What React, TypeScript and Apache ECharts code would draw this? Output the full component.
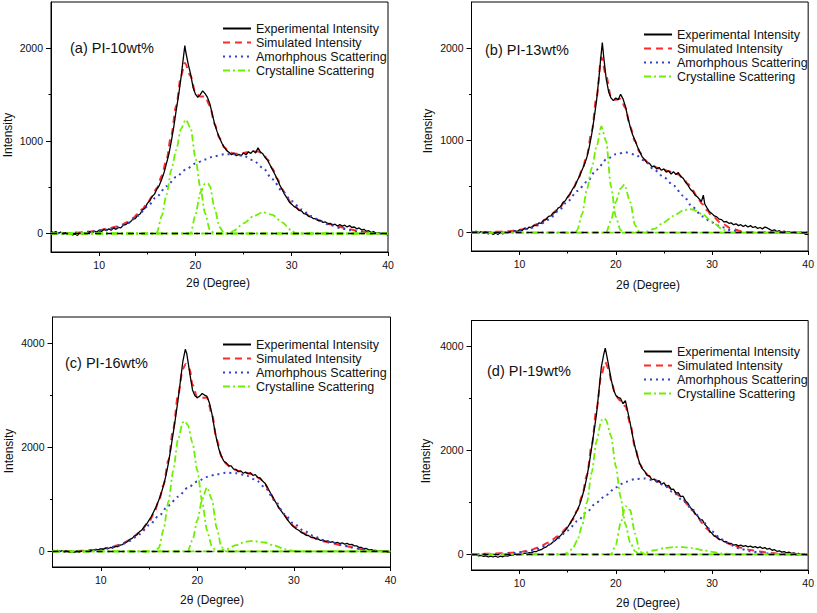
import React, { useEffect, useRef } from "react";
import * as echarts from "echarts";

type Pt = [number, number];

const panelLabels = ["(a) PI-10wt%", "(b) PI-13wt%", "(c) PI-16wt%", "(d) PI-19wt%"];
const legendNames = ["Experimental Intensity", "Simulated Intensity", "Amorhphous Scattering", "Crystalline Scattering"];
const xAxisTitle = "2θ (Degree)";
const yAxisTitle = "Intensity";
const xMajorTicks = [10, 20, 30, 40];
const xMinorTicks = [15, 25, 35];
const yMajorLow = [0, 1000, 2000];
const yMinorLow = [500, 1500];
const yMajorHigh = [0, 2000, 4000];
const yMinorHigh = [1000, 3000];

// ---------- (a) PI-10wt% ----------
const expA: Pt[] = [[5,25],[5.25,5],[5.5,20],[5.75,0],[6,15],[6.25,-5],[6.5,10],[6.75,-10],[7,5],[7.25,-15],[7.5,-5],[7.75,-20],[8,5],[8.25,-10],[8.5,10],[8.75,0],[9,20],[9.25,5],[9.5,25],[9.75,15],[10,35],[10.25,20],[10.5,45],[10.75,30],[11,50],[11.25,35],[11.5,60],[11.75,45],[12,65],[12.25,60],[12.5,90],[12.75,95],[13,115],[13.25,125],[13.5,155],[13.75,160],[14,195],[14.25,210],[14.5,255],[14.75,270],[15,325],[15.25,350],[15.5,400],[15.75,425],[16,480],[16.25,520],[16.5,585],[16.75,660],[17,760],[17.25,860],[17.5,1000],[17.75,1150],[18,1330],[18.25,1490],[18.5,1680],[18.75,1900],[18.9,2030],[19,1960],[19.25,1830],[19.5,1720],[19.75,1580],[20,1505],[20.25,1470],[20.5,1500],[20.75,1540],[21,1510],[21.25,1470],[21.5,1400],[21.75,1290],[22,1180],[22.25,1100],[22.5,1035],[22.75,975],[23,930],[23.25,895],[23.5,875],[23.75,850],[24,870],[24.25,840],[24.5,855],[24.75,840],[25,870],[25.25,850],[25.5,880],[25.75,865],[26,895],[26.25,870],[26.5,925],[26.75,880],[27,860],[27.25,820],[27.5,790],[27.75,740],[28,690],[28.25,640],[28.5,585],[28.75,525],[29,475],[29.25,425],[29.5,385],[29.75,340],[30,315],[30.25,290],[30.5,275],[30.75,250],[31,245],[31.25,215],[31.5,210],[31.75,185],[32,180],[32.25,160],[32.5,160],[32.75,140],[33,140],[33.25,120],[33.5,125],[33.75,105],[34,110],[34.25,90],[34.5,100],[34.75,80],[35,95],[35.25,80],[35.5,90],[35.75,70],[36,85],[36.25,65],[36.5,70],[36.75,50],[37,60],[37.25,40],[37.5,45],[37.75,25],[38,30],[38.25,10],[38.5,20],[38.75,0],[39,10],[39.25,-5],[39.5,5],[39.75,-10],[40,-15]];
const simA: Pt[] = [[5,10],[6,5],[7,5],[8,10],[9,20],[10,35],[11,55],[12,80],[13,125],[13.5,165],[14,210],[14.5,265],[15,330],[15.5,400],[16,490],[16.5,620],[17,800],[17.5,1070],[18,1380],[18.5,1700],[18.9,1840],[19.5,1700],[20,1520],[20.5,1480],[21,1480],[21.5,1380],[22,1180],[22.5,1030],[23,930],[23.5,880],[24,860],[24.5,860],[25,870],[25.5,880],[26,885],[26.5,885],[27,860],[27.5,800],[28,700],[28.5,590],[29,480],[29.5,390],[30,320],[31,245],[32,180],[33,135],[34,100],[35,70],[36,45],[37,25],[38,10],[39,3],[40,0]];
const amoA: Pt[] = [[5,0],[6,2],[7,5],[8,10],[9,18],[10,28],[11,45],[12,70],[13,112],[14,190],[15,290],[16,400],[17,510],[18,610],[19,690],[20,755],[21,800],[22,835],[23,855],[24,855],[25,838],[26,790],[27,710],[28,585],[29,460],[30,350],[31,260],[32,188],[33,134],[34,90],[35,60],[36,36],[37,18],[38,7],[39,2],[40,0]];
const cryA1: Pt[] = [[5,0],[15.5,0],[16,10],[16.5,190],[17,420],[17.5,690],[18,900],[18.5,1130],[19,1230],[19.5,1140],[20,820],[20.5,500],[21,220],[21.5,40],[22,0],[40,0]];
const cryA2: Pt[] = [[5,0],[19.5,0],[20,200],[20.5,440],[21,540],[21.3,540],[21.5,510],[22,270],[22.5,70],[23,0],[40,0]];
const cryA3: Pt[] = [[5,0],[23.5,0],[24,30],[25,110],[26,185],[27,230],[28,200],[29,120],[30,30],[30.5,0],[40,0]];

// ---------- (b) PI-13wt% ----------
const expB: Pt[] = [[5,15],[5.25,0],[5.5,15],[5.75,-5],[6,10],[6.25,-10],[6.5,5],[6.75,-15],[7,0],[7.25,-20],[7.5,-5],[7.75,-20],[8,0],[8.25,-15],[8.5,5],[8.75,-5],[9,10],[9.25,0],[9.5,20],[9.75,10],[10,30],[10.25,20],[10.5,45],[10.75,35],[11,60],[11.25,50],[11.5,80],[11.75,75],[12,105],[12.25,100],[12.5,135],[12.75,140],[13,175],[13.25,180],[13.5,215],[13.75,225],[14,265],[14.25,280],[14.5,325],[14.75,345],[15,390],[15.25,420],[15.5,470],[15.75,505],[16,565],[16.25,615],[16.5,680],[16.75,740],[17,820],[17.25,930],[17.5,1070],[17.75,1240],[18,1430],[18.25,1680],[18.4,1850],[18.6,2060],[18.75,1900],[19,1670],[19.25,1530],[19.5,1460],[19.75,1430],[20,1460],[20.25,1440],[20.5,1500],[20.75,1450],[21,1370],[21.25,1250],[21.5,1145],[21.75,1060],[22,1000],[22.25,930],[22.5,875],[22.75,820],[23,790],[23.25,755],[23.5,750],[23.75,715],[24,720],[24.25,690],[24.5,705],[24.75,675],[25,690],[25.25,655],[25.5,670],[25.75,635],[26,660],[26.25,630],[26.5,650],[26.75,610],[27,590],[27.25,545],[27.5,515],[27.75,470],[28,445],[28.25,405],[28.5,385],[28.75,355],[28.9,335],[29.1,405],[29.25,310],[29.5,265],[29.75,225],[30,205],[30.25,180],[30.5,170],[30.75,145],[31,140],[31.25,115],[31.5,120],[31.75,100],[32,105],[32.25,85],[32.5,95],[32.75,75],[33,85],[33.25,65],[33.5,80],[33.75,60],[34,75],[34.25,55],[34.5,65],[34.75,45],[35,55],[35.25,40],[35.5,60],[35.75,50],[36,35],[36.25,20],[36.5,30],[36.75,10],[37,20],[37.25,5],[37.5,15],[37.75,0],[38,10],[38.25,-5],[38.5,5],[38.75,-10],[39,0],[39.25,-10],[39.5,-5],[39.75,-20],[40,-20]];
const simB: Pt[] = [[5,5],[6,5],[7,5],[8,10],[9,15],[10,30],[11,55],[12,95],[13,160],[14,250],[15,380],[15.5,460],[16,560],[16.5,680],[17,840],[17.5,1100],[18,1470],[18.5,1900],[19,1700],[19.5,1470],[20,1440],[20.5,1450],[21,1350],[21.5,1150],[22,990],[22.5,870],[23,790],[23.5,745],[24,715],[24.5,695],[25,680],[25.5,665],[26,650],[26.5,630],[27,590],[27.5,530],[28,460],[28.5,380],[29,310],[29.5,240],[30,180],[31,100],[32,45],[33,15],[34,3],[35,0],[40,0]];
const amoB: Pt[] = [[5,0],[7,2],[8,5],[9,10],[10,20],[11,45],[12,80],[13,140],[14,230],[15,340],[16,450],[17,550],[18,680],[19,790],[20,850],[21,870],[22,845],[23,780],[24,680],[25,600],[26,510],[27,400],[28,275],[29,175],[30,110],[31,60],[32,25],[33,5],[34,0],[40,0]];
const cryB1: Pt[] = [[5,0],[15.8,0],[16,30],[16.5,200],[17,470],[17.5,700],[18,930],[18.5,1150],[19,990],[19.5,500],[20,170],[20.5,25],[21,0],[40,0]];
const cryB2: Pt[] = [[5,0],[19,0],[19.5,130],[20,330],[20.5,480],[20.9,520],[21.5,330],[22,80],[22.5,0],[40,0]];
const cryB3: Pt[] = [[5,0],[22.5,0],[23,5],[24,40],[25,110],[26,180],[27,240],[27.7,255],[28,250],[29,200],[30,120],[31,40],[31.8,0],[40,0]];

// ---------- (c) PI-16wt% ----------
const expC: Pt[] = [[5,20],[5.25,0],[5.5,20],[5.75,-5],[6,15],[6.25,-10],[6.5,5],[6.75,-20],[7,-5],[7.25,-20],[7.5,0],[7.75,-15],[8,5],[8.25,-5],[8.5,15],[8.75,5],[9,25],[9.25,15],[9.5,40],[9.75,30],[10,55],[10.25,40],[10.5,65],[10.75,50],[11,75],[11.25,65],[11.5,95],[11.75,90],[12,120],[12.25,130],[12.5,165],[12.75,185],[13,230],[13.25,250],[13.5,295],[13.75,320],[14,375],[14.25,410],[14.5,475],[14.75,525],[15,600],[15.25,675],[15.5,770],[15.75,865],[16,980],[16.25,1110],[16.5,1270],[16.75,1460],[17,1690],[17.25,1970],[17.5,2270],[17.75,2580],[18,2910],[18.25,3280],[18.5,3650],[18.75,3880],[18.9,3800],[19,3680],[19.25,3380],[19.5,3100],[19.75,2990],[20,2950],[20.25,2980],[20.5,3030],[20.75,3000],[21,2975],[21.25,2850],[21.5,2650],[21.75,2380],[22,2140],[22.25,1950],[22.5,1820],[22.75,1730],[23,1700],[23.25,1640],[23.5,1640],[23.75,1580],[24,1575],[24.25,1530],[24.5,1545],[24.75,1500],[25,1525],[25.25,1490],[25.5,1510],[25.75,1460],[26,1475],[26.25,1420],[26.5,1410],[26.75,1350],[27,1310],[27.25,1230],[27.5,1145],[27.75,1060],[28,980],[28.25,900],[28.5,820],[28.75,760],[29,695],[29.25,630],[29.5,565],[29.75,510],[30,470],[30.25,430],[30.5,405],[30.75,365],[31,345],[31.25,310],[31.5,305],[31.75,270],[32,270],[32.25,240],[32.5,240],[32.75,210],[33,215],[33.25,190],[33.5,200],[33.75,175],[34,185],[34.25,160],[34.5,175],[34.75,150],[35,165],[35.25,140],[35.5,155],[35.75,130],[36,135],[36.25,105],[36.5,105],[36.75,75],[37,75],[37.25,50],[37.5,55],[37.75,30],[38,35],[38.25,15],[38.5,20],[38.75,0],[39,10],[39.25,-5],[39.5,5],[39.75,-15],[40,-10]];
const simC: Pt[] = [[5,10],[6,5],[7,5],[8,10],[9,20],[10,40],[11,75],[12,130],[13,220],[14,360],[15,570],[15.5,730],[16,960],[16.5,1280],[17,1750],[17.5,2350],[18,3000],[18.5,3500],[18.8,3600],[19.2,3500],[19.5,3200],[20,2950],[20.5,2950],[21,2950],[21.5,2650],[22,2150],[22.5,1820],[23,1680],[23.5,1610],[24,1560],[24.5,1530],[25,1510],[25.5,1490],[26,1450],[26.5,1390],[27,1290],[27.5,1140],[28,980],[28.5,830],[29,700],[29.5,580],[30,480],[31,350],[32,260],[33,195],[34,150],[35,115],[36,80],[37,40],[38,15],[39,3],[40,0]];
const amoC: Pt[] = [[5,0],[7,3],[8,8],[9,20],[10,40],[11,75],[12,120],[13,200],[14,330],[15,500],[16,680],[17,880],[18,1050],[19,1220],[20,1340],[21,1430],[22,1480],[23,1510],[24,1500],[25,1460],[26,1380],[27,1230],[28,980],[29,720],[30,530],[31,400],[32,300],[33,220],[34,170],[35,120],[36,75],[37,40],[38,15],[39,3],[40,0]];
const cryC1: Pt[] = [[5,0],[15.5,0],[16,60],[16.5,420],[17,950],[17.5,1550],[18,2150],[18.5,2480],[18.7,2500],[19,2430],[19.5,2080],[20,1550],[20.5,950],[21,400],[21.5,100],[22,0],[40,0]];
const cryC2: Pt[] = [[5,0],[19,0],[19.5,220],[20,600],[20.5,1000],[21,1230],[21.5,1000],[22,450],[22.5,80],[23,0],[40,0]];
const cryC3: Pt[] = [[5,0],[22,0],[23,40],[24,120],[25,185],[25.7,200],[27,170],[28,110],[29,45],[30,10],[30.5,0],[40,0]];

// ---------- (d) PI-19wt% ----------
const expD: Pt[] = [[5,5],[5.25,-15],[5.5,-5],[5.75,-30],[6,-20],[6.25,-40],[6.5,-30],[6.75,-50],[7,-35],[7.25,-50],[7.5,-35],[7.75,-55],[8,-35],[8.25,-45],[8.5,-25],[8.75,-35],[9,-15],[9.25,-20],[9.5,5],[9.75,-5],[10,15],[10.25,5],[10.5,25],[10.75,15],[11,35],[11.25,30],[11.5,55],[11.75,55],[12,80],[12.25,90],[12.5,125],[12.75,140],[13,180],[13.25,200],[13.5,245],[13.75,275],[14,325],[14.25,360],[14.5,415],[14.75,460],[15,525],[15.25,595],[15.5,680],[15.75,760],[16,850],[16.25,960],[16.5,1105],[16.75,1280],[17,1490],[17.25,1760],[17.5,2070],[17.75,2380],[18,2710],[18.25,3150],[18.5,3610],[18.75,3850],[18.9,3970],[19,3880],[19.25,3640],[19.5,3380],[19.75,3180],[20,3060],[20.25,3020],[20.5,3000],[20.75,2900],[21,2960],[21.25,2740],[21.5,2520],[21.75,2280],[22,2070],[22.25,1890],[22.5,1745],[22.75,1650],[23,1600],[23.25,1520],[23.5,1510],[23.75,1440],[24,1450],[24.25,1390],[24.5,1420],[24.75,1350],[25,1380],[25.25,1310],[25.5,1330],[25.75,1250],[26,1255],[26.25,1180],[26.5,1190],[26.75,1110],[27,1120],[27.25,1030],[27.5,985],[27.75,900],[28,860],[28.25,780],[28.5,740],[28.75,670],[29,665],[29.25,580],[29.5,530],[29.75,450],[30,405],[30.25,350],[30.5,335],[30.75,290],[31,285],[31.25,245],[31.5,245],[31.75,210],[32,210],[32.25,180],[32.5,190],[32.75,165],[33,180],[33.25,155],[33.5,170],[33.75,145],[34,160],[34.25,135],[34.5,150],[34.75,125],[35,145],[35.25,115],[35.5,130],[35.75,100],[36,115],[36.25,80],[36.5,90],[36.75,60],[37,70],[37.25,45],[37.5,55],[37.75,30],[38,45],[38.25,20],[38.5,30],[38.75,10],[39,20],[39.25,0],[39.5,10],[39.75,-10],[40,-5]];
const simD: Pt[] = [[5,10],[6,10],[7,15],[8,20],[9,30],[10,45],[11,80],[12,135],[13,230],[14,350],[15,520],[15.5,660],[16,850],[16.5,1130],[17,1530],[17.5,2100],[18,2800],[18.5,3450],[18.9,3700],[19.3,3550],[19.5,3350],[20,3050],[20.5,2950],[21,2850],[21.5,2520],[22,2060],[22.5,1740],[23,1580],[23.5,1500],[24,1440],[24.5,1400],[25,1350],[25.5,1290],[26,1220],[26.5,1140],[27,1050],[27.5,950],[28,840],[28.5,720],[29,600],[29.5,490],[30,390],[31,270],[32,190],[33,130],[34,85],[35,55],[36,30],[37,12],[38,3],[39,0],[40,0]];
const amoD: Pt[] = [[5,0],[7,5],[8,10],[9,20],[10,35],[11,60],[12,110],[13,190],[14,310],[15,460],[16,640],[17,820],[18,1000],[19,1140],[20,1290],[21,1395],[22,1450],[23,1460],[24,1420],[25,1330],[26,1190],[27,1030],[28,860],[29,640],[30,440],[31,290],[32,175],[33,105],[34,60],[35,35],[36,15],[37,5],[38,0],[40,0]];
const cryD1: Pt[] = [[5,0],[14.5,0],[15,30],[15.5,110],[16,270],[16.5,550],[17,1000],[17.5,1580],[18,2180],[18.5,2580],[18.8,2620],[19,2580],[19.5,2280],[20,1700],[20.5,1100],[21,580],[21.5,230],[22,60],[22.5,0],[40,0]];
const cryD2: Pt[] = [[5,0],[19.5,0],[20,180],[20.5,600],[21,930],[21.5,850],[22,400],[22.5,60],[23,0],[40,0]];
const cryD3: Pt[] = [[5,0],[22,0],[23,30],[24,80],[25,120],[26,140],[27,140],[28,120],[29,85],[30,50],[31,20],[32,5],[33,0],[40,0]];

const baseline: Pt[] = [[5, 0], [40, 0]];

const FONT = "'Liberation Sans', Arial, sans-serif";
const BLACK = "#000000";
const RED = "#ff2b2b";
const BLUE = "#3442c4";
const GREEN = "#6cf000";

const panelData = [
  { exp: expA, sim: simA, amo: amoA, cry: [cryA1, cryA2, cryA3], yMin: -200, yMax: 2500, yMajor: yMajorLow, yMinor: yMinorLow },
  { exp: expB, sim: simB, amo: amoB, cry: [cryB1, cryB2, cryB3], yMin: -200, yMax: 2500, yMajor: yMajorLow, yMinor: yMinorLow },
  { exp: expC, sim: simC, amo: amoC, cry: [cryC1, cryC2, cryC3], yMin: -300, yMax: 4500, yMajor: yMajorHigh, yMinor: yMinorHigh },
  { exp: expD, sim: simD, amo: amoD, cry: [cryD1, cryD2, cryD3], yMin: -300, yMax: 4500, yMajor: yMajorHigh, yMinor: yMinorHigh },
];

// layout (pixels)
const layout = [
  { grid: { left: 51, top: 2, width: 337, height: 250 }, legend: { left: 222, top: 22 }, label: [70, 48], yTitle: [8, 135], xTitle: [218, 283] },
  { grid: { left: 471.5, top: 2, width: 337.5, height: 249 }, legend: { left: 643, top: 28 }, label: [485, 50], yTitle: [428, 131], xTitle: [648, 285] },
  { grid: { left: 52.5, top: 317, width: 338, height: 250 }, legend: { left: 222, top: 338 }, label: [65, 363], yTitle: [9, 451], xTitle: [212, 600] },
  { grid: { left: 471.5, top: 320.5, width: 338, height: 249.5 }, legend: { left: 643, top: 345 }, label: [487, 371], yTitle: [426, 461], xTitle: [648, 603] },
];

const fmt = (v: number) => String(v);

function buildOption() {
  const grid: any[] = [];
  const xAxis: any[] = [];
  const yAxis: any[] = [];
  const series: any[] = [];
  const legend: any[] = [];
  const graphic: any[] = [];

  panelData.forEach((p, i) => {
    const L = layout[i];
    grid.push({ ...L.grid, show: true, borderColor: "#000", borderWidth: 1, backgroundColor: "transparent", containLabel: false });
    xAxis.push({
      gridIndex: i, type: "value", min: 5, max: 40, position: "bottom",
      axisLine: { show: true, onZero: false, lineStyle: { color: "#000", width: 1 } },
      axisTick: { show: true, inside: false, length: 4, customValues: xMajorTicks, lineStyle: { color: "#000" } },
      axisLabel: { show: true, customValues: xMajorTicks, formatter: fmt, fontSize: 10.5, color: "#111", margin: 7, fontFamily: FONT },
      splitLine: { show: false },
    });
    xAxis.push({
      gridIndex: i, type: "value", min: 5, max: 40, position: "bottom", offset: 0,
      axisLine: { show: false, onZero: false },
      axisTick: { show: true, inside: false, length: 2.5, customValues: xMinorTicks, lineStyle: { color: "#000" } },
      axisLabel: { show: false },
      splitLine: { show: false },
    });
    yAxis.push({
      gridIndex: i, type: "value", min: p.yMin, max: p.yMax, position: "left",
      axisLine: { show: true, onZero: false, lineStyle: { color: "#000", width: 1 } },
      axisTick: { show: true, inside: false, length: 5, customValues: p.yMajor, lineStyle: { color: "#000" } },
      axisLabel: { show: true, customValues: p.yMajor, formatter: fmt, fontSize: 10.5, color: "#111", margin: 8, fontFamily: FONT },
      splitLine: { show: false },
    });
    yAxis.push({
      gridIndex: i, type: "value", min: p.yMin, max: p.yMax, position: "left", offset: 0,
      axisLine: { show: false, onZero: false },
      axisTick: { show: true, inside: false, length: 2.5, customValues: p.yMinor, lineStyle: { color: "#000" } },
      axisLabel: { show: false },
      splitLine: { show: false },
    });
    const xi = i * 2;
    const yi = i * 2;
    const common = { type: "line", xAxisIndex: xi, yAxisIndex: yi, symbol: "none", showSymbol: false, animation: false };
    series.push({ ...common, name: legendNames[1], data: p.sim, smooth: 0.3, smoothMonotone: "x", lineStyle: { color: RED, width: 2, type: [7, 5] }, itemStyle: { color: RED }, z: 2 });
    series.push({ ...common, name: legendNames[0], data: p.exp, lineStyle: { color: BLACK, width: 1.3 }, itemStyle: { color: BLACK }, z: 3 });
    series.push({ ...common, name: legendNames[2], data: p.amo, smooth: 0.3, smoothMonotone: "x", lineStyle: { color: BLUE, width: 2, type: [2, 4] }, itemStyle: { color: BLUE }, z: 4 });
    p.cry.forEach((c) => {
      series.push({ ...common, name: legendNames[3], data: c, smooth: 0.25, smoothMonotone: "x", lineStyle: { color: GREEN, width: 1.8, type: [7, 3, 2, 3] }, itemStyle: { color: GREEN }, z: 5 });
    });
    series.push({ ...common, name: "baseline", data: baseline, lineStyle: { color: "#000", width: 1.5, type: [6, 5] }, itemStyle: { color: "#000" }, z: 6 });

    legend.push({
      data: legendNames, orient: "vertical", left: L.legend.left, top: L.legend.top,
      itemWidth: 28, itemHeight: 14, itemGap: 1, padding: 0, selectedMode: false,
      itemStyle: { color: "rgba(0,0,0,0)", borderColor: "rgba(0,0,0,0)", borderWidth: 0, opacity: 0 },
      textStyle: { fontSize: 12.5, fontFamily: FONT, color: "#111" },
    });

    graphic.push({
      type: "text", x: L.label[0], y: L.label[1],
      style: { text: panelLabels[i], font: `14.5px ${FONT}`, fill: "#111", textAlign: "left", textVerticalAlign: "middle", align: "left", verticalAlign: "middle" },
    });
    graphic.push({
      type: "text", x: L.xTitle[0], y: L.xTitle[1],
      style: { text: xAxisTitle, font: `12px ${FONT}`, fill: "#111", textAlign: "center", textVerticalAlign: "middle", align: "center", verticalAlign: "middle" },
    });
    graphic.push({
      type: "text", x: L.yTitle[0], y: L.yTitle[1], rotation: Math.PI / 2,
      style: { text: yAxisTitle, font: `12px ${FONT}`, fill: "#111", textAlign: "center", textVerticalAlign: "middle", align: "center", verticalAlign: "middle" },
    });
  });

  return { animation: false, backgroundColor: "#ffffff", grid, xAxis, yAxis, series, legend, graphic };
}

export default function App() {
  const ref = useRef<HTMLDivElement>(null);
  useEffect(() => {
    if (!ref.current) return;
    const chart = echarts.init(ref.current, undefined, { renderer: "svg" });
    chart.setOption(buildOption() as any);
    return () => chart.dispose();
  }, []);
  return <div ref={ref} style={{ position: "absolute", left: 0, top: 0, width: 817, height: 613 }} />;
}
